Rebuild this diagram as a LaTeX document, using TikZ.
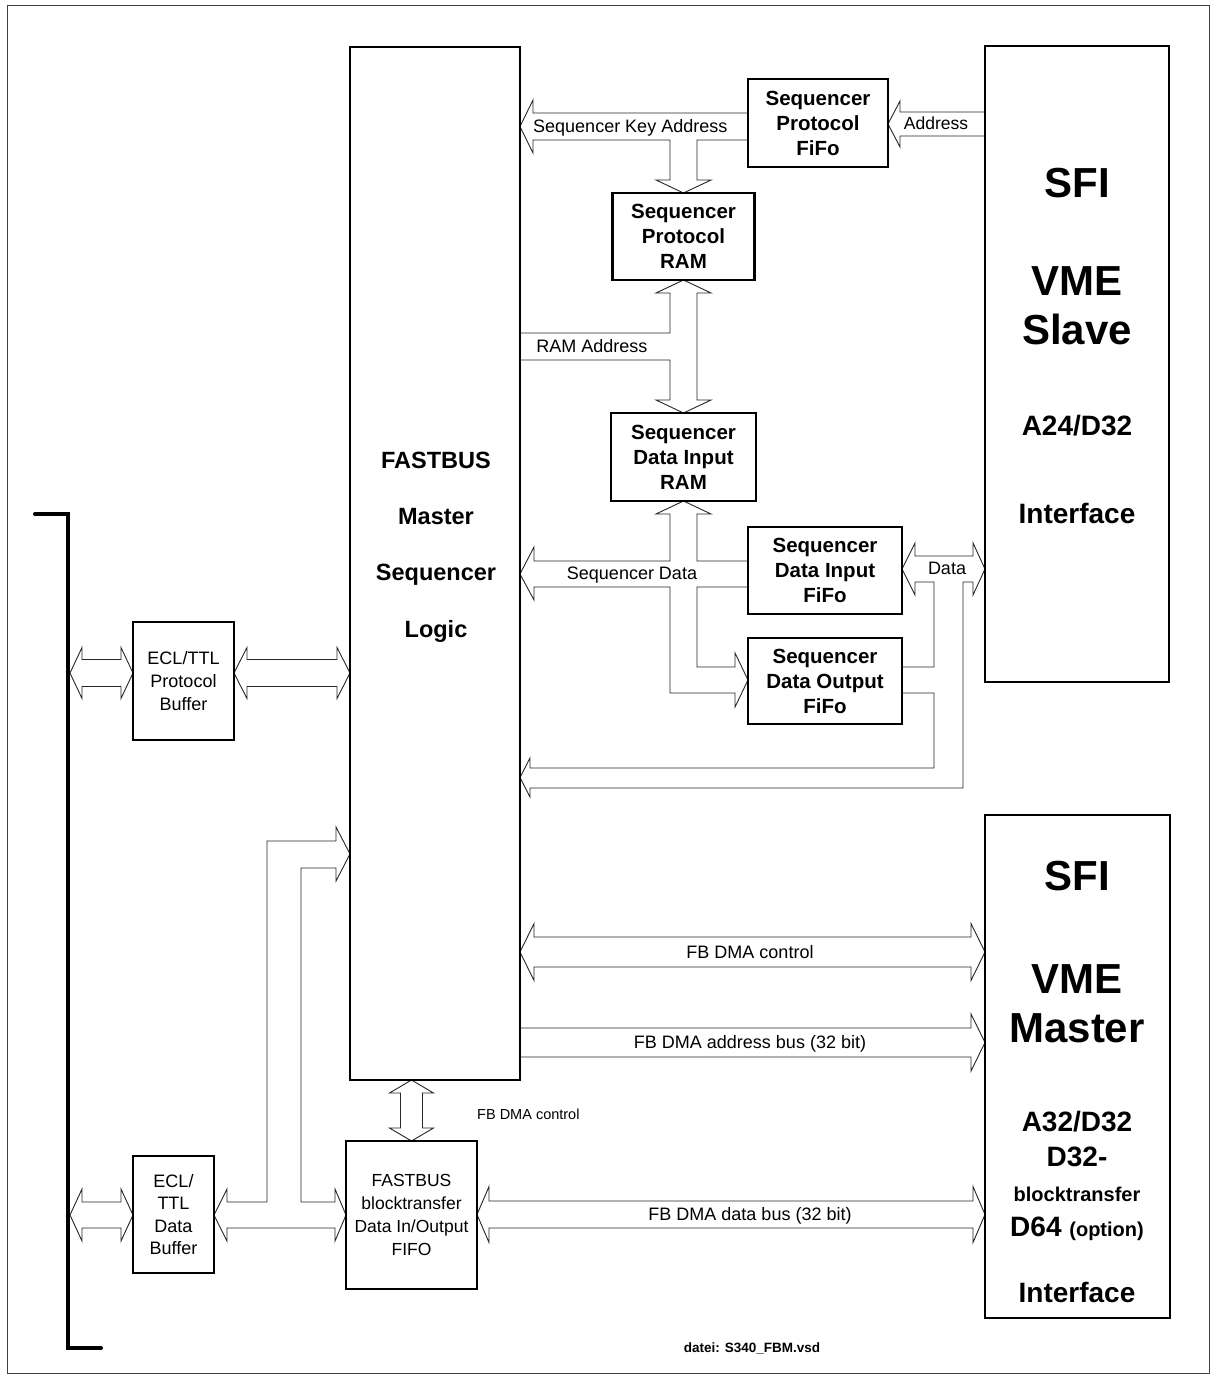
\documentclass[tikz,border=0pt]{standalone}
\usepackage{fontspec}
\setmainfont{Liberation Sans}
\usetikzlibrary{calc,backgrounds}

\tikzset{
  unitbox/.style={draw, line width=2.5pt, fill=white, inner sep=0pt, outer sep=0pt, align=center,
    font=\bfseries\fontsize{20.5}{25}\selectfont},
  bufbox/.style={draw, line width=1.4pt, fill=white, inner sep=0pt, outer sep=0pt, align=center,
    font=\fontsize{18}{23}\selectfont},
  bus/.style={draw=black!85, line width=0.9pt, fill=white, line join=miter},
  buslabel/.style={inner sep=0pt, anchor=base, font=\fontsize{18}{20}\selectfont},
  sfitext/.style={align=center, inner sep=0pt, font=\bfseries\fontsize{42}{49}\selectfont},
  sfismall/.style={align=center, inner sep=0pt, font=\bfseries\fontsize{28}{35}\selectfont},
}

% fat bus arrows: #1 first end, #2 second end, #3 shaft half width, #4 head half width, #5 head length
\newcommand{\fatLR}[5]{%
  \draw[bus] (#1) -- ++(#5,-#4) -- ++(0,#4-#3) -- ($(#2)+(-#5,-#3)$) -- ++(0,#3-#4) -- (#2)
    -- ++(-#5,#4) -- ++(0,#3-#4) -- ($(#1)+(#5,#3)$) -- ++(0,#4-#3) -- cycle;}
\newcommand{\fatR}[5]{%
  \draw[bus] ($(#1)+(0,-#3)$) -- ($(#2)+(-#5,-#3)$) -- ++(0,#3-#4) -- (#2)
    -- ++(-#5,#4) -- ++(0,#3-#4) -- ($(#1)+(0,#3)$) -- cycle;}
\newcommand{\fatL}[5]{%
  \draw[bus] (#1) -- ++(#5,-#4) -- ++(0,#4-#3) -- ($(#2)+(0,-#3)$) -- ($(#2)+(0,#3)$)
    -- ($(#1)+(#5,#3)$) -- ++(0,#4-#3) -- cycle;}
\newcommand{\fatUD}[5]{%
  \draw[bus] (#1) -- ++(#4,#5) -- ++(#3-#4,0) -- ($(#2)+(#3,-#5)$) -- ++(#4-#3,0) -- (#2)
    -- ++(-#4,-#5) -- ++(#4-#3,0) -- ($(#1)+(-#3,#5)$) -- ++(#3-#4,0) -- cycle;}

\begin{document}
\begin{tikzpicture}[x=1pt,y=-1pt]
    \useasboundingbox (0,0) rectangle (1215,1378);
    \draw[black!75, line width=1pt] (7,6) rectangle (1209,1373);

    %fastbus backplane
    \draw[line width=4pt, line cap=round] (35,514) -- (68,514) -- (68,1348) -- (101,1348);
    \coordinate (bar) at (70,514);

    %boxes
    \node[unitbox, minimum width=170pt, minimum height=1033pt] (fbm) at (435,563.5) {};
    \node[unitbox, minimum width=184pt, minimum height=636pt] (slave) at (1077,364) {};
    \node[unitbox, minimum width=185pt, minimum height=503pt] (master) at (1077.5,1066.5) {};
    \node[unitbox, minimum width=140pt, minimum height=88pt] (pfifo) at (818,123) {Sequencer\\Protocol\\FiFo};
    \node[unitbox, minimum width=142pt, minimum height=87pt] (pram) at (683.5,236.5) {Sequencer\\Protocol\\RAM};
    \node[unitbox, minimum width=145pt, minimum height=88pt] (dram) at (683.5,457) {Sequencer\\Data Input\\RAM};
    \node[unitbox, minimum width=154pt, minimum height=87pt] (difo) at (825,570.5) {Sequencer\\Data Input\\FiFo};
    \node[unitbox, minimum width=154pt, minimum height=86pt] (dofo) at (825,681) {Sequencer\\Data Output\\FiFo};
    \node[bufbox, minimum width=101pt, minimum height=118pt] (pbuf) at (183.5,681) {ECL/TTL\\Protocol\\Buffer};
    \node[bufbox, minimum width=81pt, minimum height=117pt, font=\fontsize{18}{22.3}\selectfont] (dbuf) at (173.5,1214.5) {ECL/\\TTL\\Data\\Buffer};
    \node[bufbox, line width=2pt, minimum width=131pt, minimum height=148pt, font=\fontsize{17.5}{22.7}\selectfont] (bfifo) at (411.5,1215) {FASTBUS\\blocktransfer\\Data In/Output\\FIFO};

    %box texts
    \node[align=center, inner sep=0pt, font=\bfseries\fontsize{23.5}{56.3}\selectfont] (fbmtext) at (436,547) {FASTBUS\\Master\\Sequencer\\Logic};
    \node[sfitext] (slavesfi) at (1077,183) {SFI};
    \node[sfitext] (slavevme) at (1077,305.5) {VME\\Slave};
    \node[sfismall] (slavead) at (1077,426) {A24/D32};
    \node[sfismall] (slaveif) at (1077,513) {Interface};
    \node[sfitext] (mastersfi) at (1077,876) {SFI};
    \node[sfitext] (mastervme) at (1077,1004) {VME\\Master};
    \node[sfismall] (masterad) at (1077,1176) {A32/D32\\D32-\\{\fontsize{20}{35}\selectfont blocktransfer}\\D64 {\fontsize{20}{35}\selectfont (option)}};
    \node[sfismall] (masterif) at (1077,1292) {Interface};

    \begin{scope}[on background layer]
    %protocol side
    \fatL{pfifo.east |- 0,124}{slave.west |- 0,124}{12}{23}{12}
    \draw[bus] (fbm.east |- 0,126.5) -- (533,100) -- (533,113) -- (pfifo.west |- 0,113) -- (pfifo.west |- 0,140)
        -- (697,140) -- (697,180) -- (711,180) -- (pram.north) -- (656,180) -- (670,180) -- (670,140)
        -- (533,140) -- (533,153) -- cycle;
    \draw[bus] (pram.south) -- (711,293) -- (697,293) -- (697,400) -- (711,400) -- (dram.north)
        -- (656,400) -- (670,400) -- (670,360) -- (fbm.east |- 0,360) -- (fbm.east |- 0,333)
        -- (670,333) -- (670,293) -- (656,293) -- cycle;
    %data side
    \draw[bus] (fbm.east |- 0,574) -- (534,547) -- (534,561) -- (670,561) -- (670,514) -- (656,514)
        -- (dram.south) -- (711,514) -- (697,514) -- (697,561) -- (difo.west |- 0,561) -- (difo.west |- 0,587)
        -- (697,587) -- (697,667) -- (735,667) -- (735,653) -- (dofo.west |- 0,680) -- (735,707)
        -- (735,693) -- (670,693) -- (670,587) -- (534,587) -- (534,600) -- cycle;
    \draw[bus] (difo.east |- 0,569) -- (915,543) -- (915,556) -- (973,556) -- (973,543) -- (slave.west |- 0,569)
        -- (973,595) -- (973,582) -- (963,582) -- (963,788) -- (530,788) -- (530,797) -- (fbm.east |- 0,777.5)
        -- (530,758) -- (530,768) -- (934,768) -- (934,693) -- (dofo.east |- 0,693) -- (dofo.east |- 0,667)
        -- (934,667) -- (934,582) -- (915,582) -- (915,595) -- cycle;
    %buffers
    \fatLR{bar |- 0,673}{pbuf.west |- 0,673}{13.5}{25.5}{12}
    \fatLR{pbuf.east |- 0,673}{fbm.west |- 0,673}{13.5}{25.5}{13}
    \fatLR{bar |- 0,1215}{dbuf.west |- 0,1215}{13}{26}{12}
    \draw[bus] (dbuf.east |- 0,1215) -- (227,1189) -- (227,1202) -- (267,1202) -- (267,841) -- (336,841)
        -- (336,827) -- (fbm.west |- 0,854) -- (336,881) -- (336,868) -- (301,868) -- (301,1202)
        -- (335,1202) -- (335,1189) -- (bfifo.west |- 0,1215) -- (335,1241) -- (335,1228)
        -- (227,1228) -- (227,1241) -- cycle;
    %dma
    \fatUD{fbm.south -| bfifo.north}{bfifo.north}{11}{22}{13}
    \fatLR{fbm.east |- 0,952}{master.west |- 0,952}{15}{28.5}{14}
    \fatR{fbm.east |- 0,1042.5}{master.west |- 0,1042.5}{14.5}{28.5}{14}
    \fatLR{bfifo.east |- 0,1214.5}{master.west |- 0,1214.5}{13.5}{28}{12}
    \end{scope}

    %bus labels
    \node[buslabel, anchor=base west] (lkey) at (533,132.5) {Sequencer Key Address};
    \node[buslabel, font=\fontsize{17.5}{20}\selectfont] (laddr) at (936,129) {Address};
    \node[buslabel] (lramaddr) at (592,352.5) {RAM Address};
    \node[buslabel] (lseqdata) at (632,579.5) {Sequencer Data};
    \node[buslabel] (ldata) at (947,574.5) {Data};
    \node[buslabel] (ldmactl) at (750,958.5) {FB DMA control};
    \node[buslabel] (ldmaaddr) at (750,1048.5) {FB DMA address bus (32 bit)};
    \node[buslabel] (ldmadata) at (750,1220.5) {FB DMA data bus (32 bit)};
    \node[buslabel, anchor=base west, font=\fontsize{14.5}{16}\selectfont] (lfifoctl) at (477,1119) {FB DMA control};
    \node[buslabel, font=\bfseries\fontsize{13.5}{16}\selectfont] (datei) at (752,1352) {datei: S340\_FBM.vsd};

\end{tikzpicture}
\end{document}
